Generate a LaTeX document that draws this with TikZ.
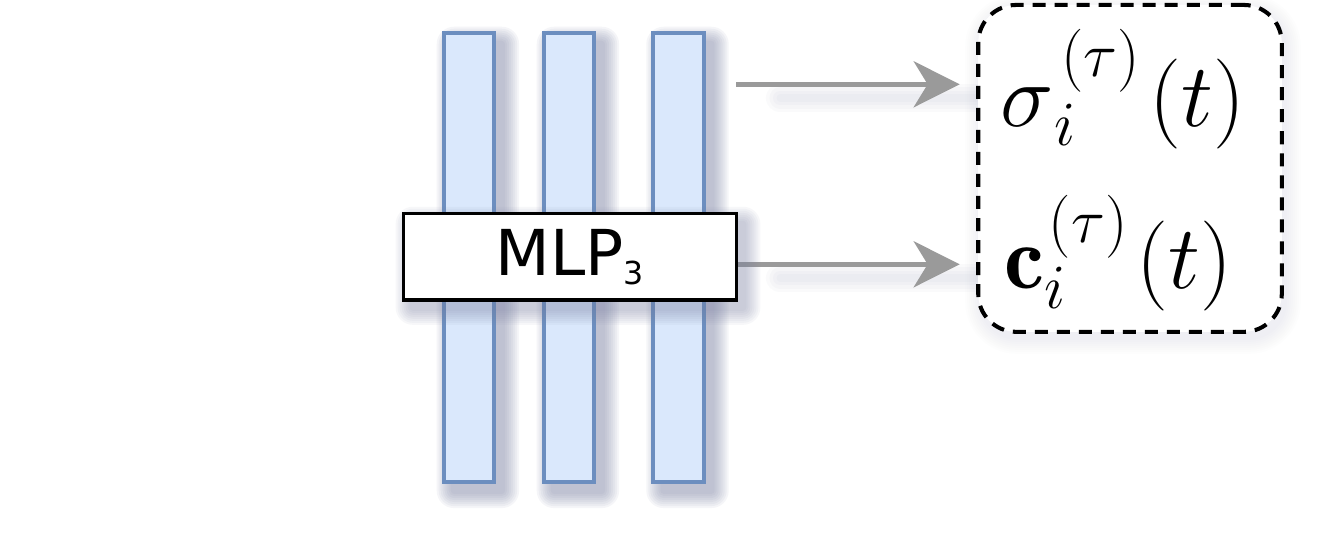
\RequirePackage{fix-cm}
\documentclass[tikz,border=0pt]{standalone}
\usepackage{fontspec}
\setsansfont{DejaVu Sans}
\usetikzlibrary{arrows.meta}
\definecolor{barfill}{HTML}{DAE8FC}
\definecolor{barline}{HTML}{6C8EBF}
\definecolor{arrgray}{HTML}{9A9A9A}
\definecolor{shadowc}{HTML}{7C82A4}
\pgfdeclarelayer{bglayer}
\pgfdeclarelayer{shadowA}
\pgfdeclarelayer{shadowB}
\pgfdeclarelayer{toplayer}
\pgfsetlayers{bglayer,shadowA,main,shadowB,toplayer}
% soft drop shadow of a node: #1 node, #2 opacity per layer, #3 x offset, #4 y offset (px, down positive), #5 base rounding
\newcommand{\dropshadow}[5]{%
  \foreach \sk in {0,2,...,14}{%
    \fill[shadowc,opacity=#2,rounded corners=\sk*0.28pt+#5]
      ([shift={(#3-\sk,#4+\sk)}]#1.south west) rectangle ([shift={(#3+\sk,#4-\sk)}]#1.north east);
  }}
\begin{document}
\begin{tikzpicture}[x=0.01cm,y=-0.01cm,
  bar/.style={draw=barline,fill=barfill,line width=1.15pt,minimum width=0.503cm,minimum height=4.49cm,inner sep=0pt},
  mlp/.style={draw=black,fill=white,line width=1pt,minimum width=3.33cm,minimum height=0.865cm,inner sep=0pt,font=\sffamily\fontsize{18}{20}\selectfont},
  outbox/.style={draw=black,fill=white,line width=1.15pt,dash pattern=on 0.13cm off 0.09cm,rounded corners=0.38cm,minimum width=3.034cm,minimum height=3.267cm,inner sep=0pt},
  arr/.style={draw=arrgray,line width=1.3pt,-{Stealth[length=0.46cm,width=0.46cm,inset=0.14cm]},shorten >=0.165cm},
  arrshadow/.style={draw=shadowc,line cap=round,opacity=0.035},
  mathtxt/.style={font=\fontsize{25.6}{30}\selectfont,inner sep=0pt,anchor=base west}]
\useasboundingbox (0,0) rectangle (1340,540);
\begin{pgfonlayer}{bglayer}
\fill[white] (0,0) rectangle (1340,540);
\end{pgfonlayer}
% bars
\node[bar] (b1) at (468.9,257.4) {};
\node[bar] (b2) at (568.9,257.4) {};
\node[bar] (b3) at (678.5,257.4) {};
% MLP box
\begin{pgfonlayer}{toplayer}
\node[mlp] (mlp) at (570,256.8) {MLP\raisebox{-2.6pt}{\fontsize{9}{10}\selectfont 3}};
\end{pgfonlayer}
% output box
\node[outbox] (out) at (1130,168.4) {};
\node[mathtxt] (sig) at (1000,127) {$\sigma\rlap{\raisebox{-5.4pt}{$\scriptstyle i$}}\kern2pt\raisebox{14.5pt}{$\scriptstyle(\tau)$}\kern2.8pt(t)$};
\node[mathtxt] (col) at (1004,288) {$\mathbf{c}\rlap{\raisebox{-5.7pt}{$\scriptstyle i$}}\kern1.2pt\raisebox{12.8pt}{$\scriptstyle(\tau)$}\kern2.7pt(t)$};
% shadows
\begin{pgfonlayer}{shadowA}
\dropshadow{b1}{0.075}{9}{10}{1pt}
\dropshadow{b2}{0.075}{9}{10}{1pt}
\dropshadow{b3}{0.075}{9}{10}{1pt}
\dropshadow{out}{0.01}{3}{6}{0.38cm}
\end{pgfonlayer}
\begin{pgfonlayer}{shadowB}
\dropshadow{mlp}{0.06}{8}{9}{1pt}
\end{pgfonlayer}
% arrow start points
\coordinate (s1) at (736,84.3);
\coordinate (s2) at (736.5,264.3);
\coordinate (h1) at (780,98);
\coordinate (h2) at (780,278);
% soft arrow shadows
\begin{pgfonlayer}{shadowA}
\foreach \w in {2pt,4pt,6pt,8pt}{
  \draw[arrshadow,line width=\w] (h1) -- (h1 -| out.west);
  \draw[arrshadow,line width=\w] (h2) -- (h2 -| out.west);
}
\end{pgfonlayer}
% arrows
\draw[arr] (s1) -- (s1 -| out.west);
\draw[arr] (s2) -- (s2 -| out.west);
\end{tikzpicture}
\end{document}
